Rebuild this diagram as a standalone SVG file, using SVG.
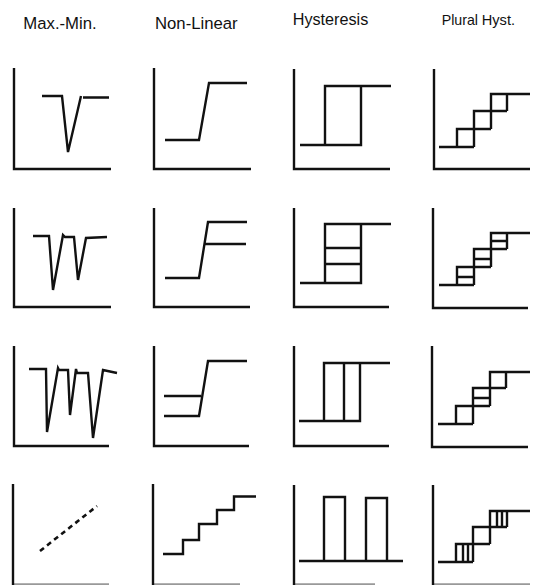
<svg xmlns="http://www.w3.org/2000/svg" width="546" height="585" viewBox="0 0 546 585">
<style>
.t{font-family:"Liberation Sans",Arial,sans-serif;font-size:16.3px;fill:#111}
.ax{fill:none;stroke:#111;stroke-width:2.4}
.c{fill:none;stroke:#111;stroke-width:2.4;stroke-linejoin:miter}
.d{fill:none;stroke:#111;stroke-width:2.6;stroke-dasharray:5 4}
.g{fill:none;stroke:#999;stroke-width:2.4}
</style>
<rect width="546" height="585" fill="#fff"/>
<g id="titles">
<text class="t" x="23.3" y="29" textLength="73.4" lengthAdjust="spacingAndGlyphs">Max.-Min.</text>
<text class="t" x="155" y="28.5" textLength="82.7" lengthAdjust="spacingAndGlyphs">Non-Linear</text>
<text class="t" x="292.7" y="25" textLength="75.6" lengthAdjust="spacingAndGlyphs">Hysteresis</text>
<text class="t" x="441.7" y="25" style="font-size:14.2px">Plural</text>
<text class="t" x="515" y="25" text-anchor="end" style="font-size:14.6px">Hyst.</text>
</g>
<!-- Row 1 -->
<g id="r1c1">
<path class="ax" d="M14,68V169H111"/>
<path class="c" d="M42,96H62L68,152L81,96M83,97.5H109"/>
</g>
<g id="r1c2">
<path class="ax" d="M154,68V169H251"/>
<path class="c" d="M165,140H199L209,83H247"/>
</g>
<g id="r1c3">
<path class="ax" d="M294,69V169H390"/>
<path class="c" d="M300,145H361V86H325V145M361,86H391"/>
</g>
<g id="r1c4">
<path class="ax" d="M434,69V169H530"/>
<path class="c" d="M439,147H474M457,147V129H491M474,147V111H507M474,129V111H491M491,129V94H530M507,111V94"/>
</g>
<!-- Row 2 -->
<g id="r2c1">
<path class="ax" d="M14,208V307H111"/>
<path class="c" d="M33,236H49L53,290L63,235L65,237H74L78,280L86,238L107,237"/>
</g>
<g id="r2c2">
<path class="ax" d="M154,208V307H250"/>
<path class="c" d="M165,278H199L208,222H247M205,244H246"/>
</g>
<g id="r2c3">
<path class="ax" d="M294,208V307H389"/>
<path class="c" d="M300,283H361V224H325V283M361,224H391M325,248H361M325,264H361"/>
</g>
<g id="r2c4">
<path class="ax" d="M433,208V308H528"/>
<path class="c" d="M439,285H474M457,285V267H491M474,285V249H507M474,267V249H491M491,267V233H530M507,249V233M457,277H474M474,259H491M491,241H507"/>
</g>
<!-- Row 3 -->
<g id="r3c1">
<path class="ax" d="M14,346V446H109"/>
<path class="c" d="M29,369H46L47,432L58,368L59,370H68L70,415L76,369L77,373H88L93,438L103,370L117,373"/>
</g>
<g id="r3c2">
<path class="ax" d="M154,346V446H249"/>
<path class="c" d="M164,416H199L208,361H247M164,396H201"/>
</g>
<g id="r3c3">
<path class="ax" d="M294,346V446H389"/>
<path class="c" d="M299,421H360V363H324V421M360,363H390M344,363V421"/>
</g>
<g id="r3c4">
<path class="ax" d="M432,346V447H528"/>
<path class="c" d="M438,424H473M456,424V406H490M473,424V388H506M473,406V388H490M490,406V372H530M506,388V372M473,398H490"/>
</g>
<!-- Row 4 -->
<g id="r4c1">
<path class="g" d="M13,584.5H109"/>
<path class="ax" d="M13,484V585"/>
<path class="d" d="M40,551L97,506"/>
</g>
<g id="r4c2">
<path class="g" d="M153,584.5H240"/>
<path class="ax" d="M153,484V585"/>
<path class="c" d="M163,554H183V540H199V524H217V510H234V496.5H256"/>
</g>
<g id="r4c3">
<path class="g" d="M294,584.5H375"/>
<path class="ax" d="M294,485V585"/>
<path class="c" d="M299,561H403M324,561V497H345V561M366,561V498H387V561"/>
</g>
<g id="r4c4">
<path class="g" d="M433,584.5H530"/>
<path class="ax" d="M433,485V585"/>
<path class="c" d="M438,562H473M456,562V544H490M473,562V527H507M473,544V527H490M490,544V511H530M507,527V511M463,544V562M468,544V562M497,511V527M502,511V527"/>
</g>
</svg>
